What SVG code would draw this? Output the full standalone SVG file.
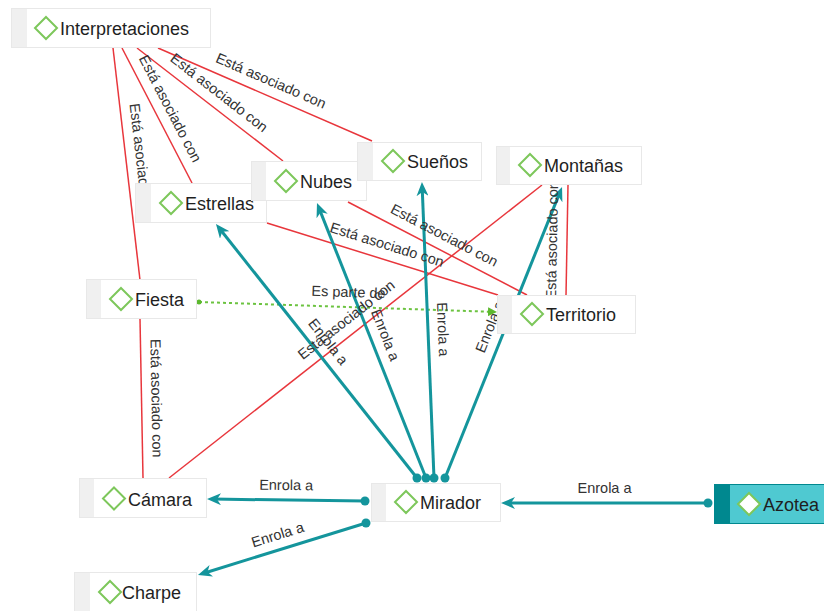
<svg xmlns="http://www.w3.org/2000/svg" width="824" height="611" viewBox="0 0 824 611">
<defs>
<style>
.box{fill:#fff;stroke:#e8e8e8;stroke-width:1}
.strip{fill:#f0f0f0}
.dia{fill:#fff;stroke:#7dc75b;stroke-width:2}
.nt{font-family:"Liberation Sans",Arial,sans-serif;font-size:18px;fill:#1f1f1f}
.lbl{font-family:"Liberation Sans",Arial,sans-serif;font-size:14.5px;fill:#333;text-anchor:middle}
.red{stroke:#e8363c;stroke-width:1.5;fill:none}
.teal{stroke:#14959c;stroke-width:3;fill:none;marker-start:url(#dot);marker-end:url(#arr)}
.green{stroke:#6cc340;stroke-width:2;stroke-dasharray:3 3;fill:none;marker-start:url(#gdot);marker-end:url(#garr)}
</style>
<marker id="arr" markerUnits="userSpaceOnUse" viewBox="0 0 14 12" refX="8" refY="6" markerWidth="14" markerHeight="12" orient="auto"><path d="M14,6 L0,0 L4,6 L0,12 Z" fill="#14959c"/></marker>
<marker id="dot" markerUnits="userSpaceOnUse" viewBox="0 0 10 10" refX="5" refY="5" markerWidth="10" markerHeight="10"><circle cx="5" cy="5" r="4.5" fill="#14959c"/></marker>
<marker id="garr" markerUnits="userSpaceOnUse" viewBox="0 0 9 9" refX="3" refY="4.5" markerWidth="9" markerHeight="9" orient="auto"><path d="M9,4.5 L0,0 L0,9 Z" fill="#5cb82e"/></marker>
<marker id="gdot" markerUnits="userSpaceOnUse" viewBox="0 0 6 6" refX="3" refY="3" markerWidth="6" markerHeight="6"><circle cx="3" cy="3" r="2.5" fill="#5cb82e"/></marker>
</defs>
<rect x="0" y="0" width="824" height="611" fill="#fff"/>
<g id="connectors">
<line class="red" x1="113" y1="48" x2="140" y2="280"/>
<line class="red" x1="122" y1="48" x2="192" y2="183"/>
<line class="red" x1="137" y1="48" x2="283" y2="161"/>
<line class="red" x1="158" y1="48" x2="372" y2="141"/>
<line class="red" x1="140" y1="319" x2="143" y2="478"/>
<line class="red" x1="169" y1="478" x2="542" y2="185"/>
<line class="red" x1="267" y1="223" x2="498" y2="295"/>
<line class="red" x1="348" y1="202" x2="527" y2="295"/>
<line class="red" x1="568" y1="185" x2="566" y2="296"/>
<line class="green" x1="199" y1="302" x2="491" y2="311.8"/>
<line class="teal" x1="417" y1="478" x2="219.7" y2="228.7"/>
<line class="teal" x1="426" y1="478" x2="319.2" y2="208.6"/>
<line class="teal" x1="434" y1="478" x2="422.2" y2="188"/>
<line class="teal" x1="445" y1="478" x2="559.8" y2="192.6"/>
<line class="teal" x1="365" y1="501" x2="213" y2="499.1"/>
<line class="teal" x1="366" y1="523" x2="203.7" y2="573.2"/>
<line class="teal" x1="708" y1="503" x2="507" y2="503"/>
<g id="labels">
<text class="lbl" transform="translate(126.5,164) rotate(83.36)" y="-10">Está asociado con</text>
<text class="lbl" transform="translate(157,115.5) rotate(62.59)" y="-10">Está asociado con</text>
<text class="lbl" transform="translate(210,104.5) rotate(37.74)" y="-10">Está asociado con</text>
<text class="lbl" transform="translate(265,94.5) rotate(23.49)" y="-10">Está asociado con</text>
<text class="lbl" transform="translate(141.5,398.5) rotate(88.92)" y="-10">Está asociado con</text>
<text class="lbl" transform="translate(355.5,331.5) rotate(-38.15)" y="-10">Está asociado con</text>
<text class="lbl" transform="translate(382.5,259) rotate(17.31)" y="-10">Está asociado con</text>
<text class="lbl" transform="translate(437.5,248.5) rotate(27.45)" y="-10">Está asociado con</text>
<text class="lbl" transform="translate(567,240.5) rotate(-88.97)" y="-10">Está asociado con</text>
<text class="lbl" transform="translate(348,307) rotate(1.92)" y="-10">Es parte de</text>
<text class="lbl" transform="translate(316.5,351) rotate(51.64)" y="-10">Enrola a</text>
<text class="lbl" transform="translate(371.5,340.5) rotate(68.38)" y="-10">Enrola a</text>
<text class="lbl" transform="translate(428,330) rotate(87.68)" y="-10">Enrola a</text>
<text class="lbl" transform="translate(503.5,332.5) rotate(-68.1)" y="-10">Enrola a</text>
<text class="lbl" transform="translate(286,500) rotate(0.73)" y="-10">Enrola a</text>
<text class="lbl" transform="translate(282,549) rotate(-17.2)" y="-10">Enrola a</text>
<text class="lbl" transform="translate(604.5,503)" y="-10">Enrola a</text>
</g>
</g>
<g id="n-interpretaciones">
<rect class="box" x="11.5" y="8.5" width="199" height="39"/>
<rect class="strip" x="12" y="9" width="15" height="38"/>
<path class="dia" d="M46,17 L57,28 L46,39 L35,28 Z"/>
<text class="nt" x="60" y="35">Interpretaciones</text>
</g>
<g id="n-estrellas">
<rect class="box" x="135.5" y="183.5" width="131" height="39"/>
<rect class="strip" x="136" y="184" width="15" height="38"/>
<path class="dia" d="M171,192 L182,203 L171,214 L160,203 Z"/>
<text class="nt" x="185" y="210">Estrellas</text>
</g>
<g id="n-nubes">
<rect class="box" x="251.5" y="161.5" width="115" height="39"/>
<rect class="strip" x="252" y="162" width="14" height="38"/>
<path class="dia" d="M286,170 L297,181 L286,192 L275,181 Z"/>
<text class="nt" x="300" y="188">Nubes</text>
</g>
<g id="n-suenos">
<rect class="box" x="357.5" y="142.5" width="124" height="38"/>
<rect class="strip" x="358" y="143" width="15" height="37"/>
<path class="dia" d="M393,150 L404,161 L393,172 L382,161 Z"/>
<text class="nt" x="407" y="168">Sueños</text>
</g>
<g id="n-montanas">
<rect class="box" x="496.5" y="146.5" width="145" height="38"/>
<rect class="strip" x="497" y="147" width="13" height="37"/>
<path class="dia" d="M530,154 L541,165 L530,176 L519,165 Z"/>
<text class="nt" x="544" y="172">Montañas</text>
</g>
<g id="n-fiesta">
<rect class="box" x="86.5" y="279.5" width="110" height="39"/>
<rect class="strip" x="87" y="280" width="14" height="38"/>
<path class="dia" d="M121,288 L132,299 L121,310 L110,299 Z"/>
<text class="nt" x="135" y="306">Fiesta</text>
</g>
<g id="n-territorio">
<rect class="box" x="497.5" y="295.5" width="138" height="38"/>
<rect class="strip" x="498" y="296" width="14" height="37"/>
<path class="dia" d="M532,303 L543,314 L532,325 L521,314 Z"/>
<text class="nt" x="546" y="321">Territorio</text>
</g>
<g id="n-camara">
<rect class="box" x="79.5" y="478.5" width="127" height="39"/>
<rect class="strip" x="80" y="479" width="14" height="38"/>
<path class="dia" d="M114,487.5 L125,498.5 L114,509.5 L103,498.5 Z"/>
<text class="nt" x="128" y="505.5">Cámara</text>
</g>
<g id="n-charpe">
<rect class="box" x="74.5" y="572.5" width="122" height="40"/>
<rect class="strip" x="75" y="573" width="15" height="39"/>
<path class="dia" d="M110,581 L121,592 L110,603 L99,592 Z"/>
<text class="nt" x="122" y="599">Charpe</text>
</g>
<g id="n-mirador">
<rect class="box" x="371.5" y="483.5" width="129" height="38"/>
<rect class="strip" x="372" y="484" width="14" height="37"/>
<path class="dia" d="M406,491 L417,502 L406,513 L395,502 Z"/>
<text class="nt" x="420" y="509">Mirador</text>
</g>
<g id="n-azotea">
<rect x="714.5" y="484.5" width="115" height="39" fill="#4fc9d1" stroke="#00888f" stroke-width="1"/>
<rect x="715" y="485" width="15" height="38" fill="#00888f"/>
<path class="dia" d="M749,493 L760,504 L749,515 L738,504 Z"/>
<text class="nt" x="763" y="511">Azotea</text>
</g>
</svg>
